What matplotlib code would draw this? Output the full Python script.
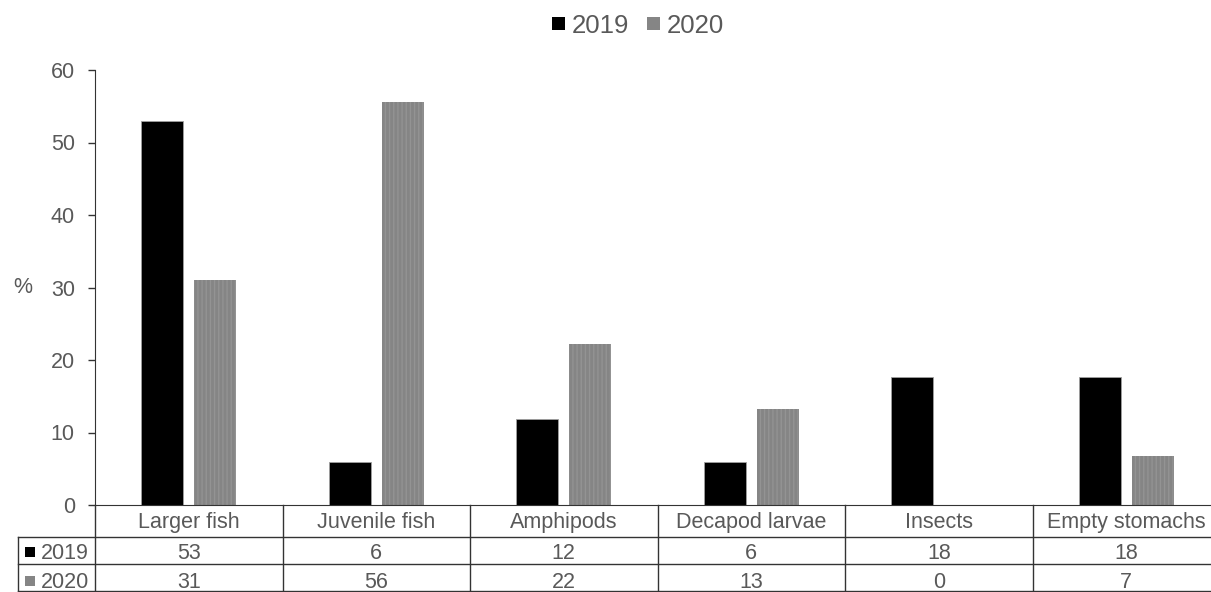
import numpy as np
import matplotlib.pyplot as plt
from matplotlib.patches import Patch, Rectangle

plt.rcParams['font.family'] = ['Liberation Sans', 'DejaVu Sans']

categories = ['Larger fish', 'Juvenile fish', 'Amphipods', 'Decapod larvae', 'Insects', 'Empty stomachs']
years = ['2019', '2020']
vals_2019 = [52.9, 5.9, 11.8, 5.9, 17.6, 17.6]
vals_2020 = [31.1, 55.6, 22.2, 13.3, 0.0, 6.7]
table_2019 = [53, 6, 12, 6, 18, 18]
table_2020 = [31, 56, 22, 13, 0, 7]

c19 = 'black'
c20 = '#858585'
txt = '#595959'
fs = 15.5

W, H = 1211, 592
fig = plt.figure(figsize=(W / 100, H / 100), dpi=100)

def fx(px):
    return px / W

def fy(py):
    return 1 - py / H

# plot area: x from 95 to ~1220 px, y zero at 505 px, 60 at 70 px
ax = fig.add_axes([fx(95), fy(505), fx(1220) - fx(95), fy(70) - fy(505)])

x = np.arange(len(categories))
bw = 0.224
off = 0.141
ax.bar(x - off, vals_2019, bw, color=c19, edgecolor='#a0a0a0', linewidth=0.6)
ax.bar(x + off, vals_2020, bw, color=c20, hatch='||||', edgecolor='#939393', linewidth=0)

ax.set_xlim(-0.5, len(categories) - 0.5)
ax.set_ylim(0, 60)
ax.set_yticks(range(0, 61, 10))
ax.tick_params(axis='y', labelsize=fs, labelcolor=txt, length=5, width=1, color='#333333', pad=9.5)
ax.set_xticks([])
for s in ['top', 'right']:
    ax.spines[s].set_visible(False)
ax.spines['left'].set_color('#333333')
ax.spines['bottom'].set_color('#333333')

fig.text(fx(23), fy(287), '%', fontsize=fs, color=txt, ha='center', va='center')

# legend
fig.legend(handles=[Patch(facecolor=c19, label='2019'),
                    Patch(facecolor=c20, label='2020')],
           loc='center', bbox_to_anchor=(fx(638), fy(26)), ncol=2, frameon=False,
           fontsize=18.5, handlelength=0.5, handleheight=0.4, handletextpad=0.25,
           columnspacing=0.7, labelcolor=txt)

# data table below the axis
ybot = fy(592)
y_head = fy(537)
y_mid = fy(564)
row_left = fx(18)
right = 1.0

lk = dict(color='#333333', lw=1, transform=fig.transFigure, clip_on=False)
fig.add_artist(plt.Line2D([row_left, right], [y_head, y_head], **lk))
fig.add_artist(plt.Line2D([row_left, right], [y_mid, y_mid], **lk))
fig.add_artist(plt.Line2D([row_left, right], [ybot + 0.001, ybot + 0.001], **lk))
fig.add_artist(plt.Line2D([row_left, row_left], [ybot, y_head], **lk))
inv = fig.transFigure.inverted()
for i in range(len(categories) + 1):
    xfig = inv.transform(ax.transData.transform((i - 0.5, 0)))[0]
    fig.add_artist(plt.Line2D([xfig, xfig], [ybot, fy(505)], **lk))

for i, cat in enumerate(categories):
    xfig = inv.transform(ax.transData.transform((i, 0)))[0]
    fig.text(xfig, fy(528), cat, ha='center', va='baseline', fontsize=fs, color=txt)
    fig.text(xfig, fy(559), str(table_2019[i]), ha='center', va='baseline', fontsize=fs, color=txt)
    fig.text(xfig, fy(588), str(table_2020[i]), ha='center', va='baseline', fontsize=fs, color=txt)

for yy, lab, col in [(559, years[0], c19), (588, years[1], c20)]:
    fig.add_artist(Rectangle((fx(25), fy(yy - 2)), fx(10), fy(yy - 12) - fy(yy - 2),
                             facecolor=col, edgecolor='none', transform=fig.transFigure))
    fig.text(fx(89), fy(yy), lab, ha='right', va='baseline', fontsize=fs, color=txt)

fig.savefig('out.png', dpi=100)
